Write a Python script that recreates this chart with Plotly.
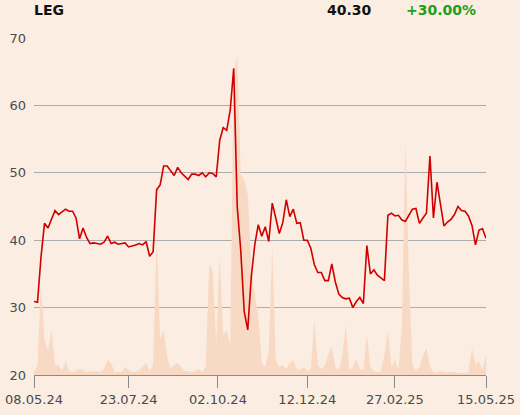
import pandas as pd
import plotly.graph_objects as go

# ---------------- data ----------------
ticker = "LEG"
last_price = "40.30"
change_pct = "+30.00%"

holidays = ["2024-12-24", "2024-12-25", "2024-12-26", "2024-12-31",
            "2025-01-01", "2025-04-18", "2025-04-21", "2025-05-01"]
start_date = "2024-05-08"
end_date = "2025-05-15"

tick_dates = ["2024-05-08", "2024-07-23", "2024-10-02",
              "2024-12-12", "2025-02-27", "2025-05-15"]
tick_labels = ["08.05.24", "23.07.24", "02.10.24", "12.12.24", "27.02.25", "15.05.25"]

# closing price, every second trading day
price = [30.9, 30.8, 37.5, 42.5, 41.8, 43.0, 44.4, 43.8, 44.2, 44.6,
         44.3, 44.3, 43.3, 40.2, 41.8, 40.4, 39.5, 39.6, 39.5, 39.4,
         39.7, 40.6, 39.5, 39.7, 39.4, 39.5, 39.6, 39.0, 39.1, 39.3,
         39.5, 39.3, 39.8, 37.6, 38.3, 47.5, 48.2, 51.0, 51.0, 50.2,
         49.6, 50.8, 50.0, 49.5, 49.0, 49.8, 49.8, 49.6, 50.0, 49.4,
         50.0, 49.9, 49.4, 54.8, 56.7, 56.3, 59.3, 65.5, 45.0, 38.5,
         29.4, 26.7, 34.5, 39.3, 42.3, 40.6, 42.0, 39.8, 45.5, 43.3,
         41.0, 42.6, 46.0, 43.5, 44.6, 42.5, 42.6, 40.0, 40.0, 38.8,
         36.4, 35.2, 35.2, 34.0, 34.0, 36.5, 33.8, 32.0, 31.5, 31.3,
         31.4, 30.0, 30.9, 31.5, 30.6, 39.2, 35.0, 35.6, 34.8, 34.4,
         34.0, 43.7, 44.0, 43.6, 43.7, 43.0, 42.8, 43.7, 44.6, 44.7,
         42.5, 43.3, 44.0, 52.5, 43.3, 48.6, 45.5, 42.1, 42.7, 43.1,
         43.8, 45.0, 44.4, 44.3, 43.6, 42.2, 39.3, 41.5, 41.7, 40.3]

# traded volume (thousands), every second trading day
volume = [30, 100, 900, 350, 250, 450, 100, 100, 40, 130,
          40, 30, 40, 60, 50, 30, 40, 30, 40, 30,
          60, 150, 120, 30, 30, 30, 80, 50, 30, 30,
          50, 80, 120, 40, 100, 1380, 350, 450, 180, 60,
          100, 120, 80, 40, 40, 30, 40, 60, 30, 80,
          1100, 1050, 300, 1200, 400, 450, 300, 3000, 3200, 2000,
          1950, 1800, 1100, 800, 600, 120, 80, 250, 1280, 150,
          80, 100, 60, 120, 150, 60, 50, 80, 40, 60,
          550, 100, 60, 100, 200, 280, 80, 50, 200, 500,
          50, 80, 160, 50, 60, 400, 80, 40, 30, 40,
          200, 450, 80, 150, 50, 480, 2330, 1000, 100, 40,
          80, 200, 270, 80, 30, 30, 40, 30, 30, 30,
          30, 20, 20, 20, 30, 270, 100, 140, 50, 200]

# ---------------- calendar ----------------
trading_days = [d for d in pd.bdate_range(start_date, end_date)
                if d.strftime("%Y-%m-%d") not in holidays]
dates = trading_days[::2]
n = min(len(dates), len(price), len(volume))
dates, price, volume = dates[:n], price[:n], volume[:n]

# ---------------- style ----------------
BG = "#FBEDE1"
RED = "#D00000"
VOL = "#F7D9C4"
GRID = "#ADADAD"
AXIS = "#8A8A8A"
TXT = "#4A4A4A"
FONT = "DejaVu Sans"

fig = go.Figure()
fig.add_trace(go.Scatter(x=dates, y=volume, yaxis="y", mode="lines",
                         line=dict(width=0, color=VOL), fill="tozeroy",
                         fillcolor=VOL, hoverinfo="skip", showlegend=False))
fig.add_trace(go.Scatter(x=dates, y=price, yaxis="y2", mode="lines",
                         line=dict(width=1.6, color=RED), showlegend=False))

fig.update_layout(
    width=520, height=415, autosize=False,
    margin=dict(l=34, r=34, t=38, b=40, pad=0, autoexpand=False),
    paper_bgcolor=BG, plot_bgcolor=BG,
    font=dict(family=FONT, size=13, color=TXT),
    xaxis=dict(type="date", range=[start_date, end_date], automargin=False,
               rangebreaks=[dict(bounds=["sat", "mon"]), dict(values=holidays)],
               tickvals=tick_dates, ticktext=tick_labels,
               showgrid=False, showline=True, linecolor=AXIS, linewidth=1,
               ticks="outside", ticklen=12, tickcolor=AXIS, tickwidth=1,
               tickfont=dict(size=13, color=TXT), zeroline=False),
    yaxis=dict(range=[0, 3370], showgrid=False, showticklabels=False,
               automargin=False,
               zeroline=False, showline=False, ticks=""),
    yaxis2=dict(range=[20, 70], overlaying="y", side="left", automargin=False,
                tickvals=[20, 30, 40, 50, 60, 70],
                showgrid=True, gridcolor=GRID, gridwidth=1,
                zeroline=False, showline=False, ticks="",
                ticklabelstandoff=7,
                tickfont=dict(size=13, color=TXT)),
    annotations=[
        dict(text="<b>" + ticker + "</b>", xref="paper", yref="paper",
             x=0.0, y=1.083, xanchor="left", yanchor="middle", showarrow=False,
             xshift=-2,
             font=dict(family=FONT, size=14, color="#111111")),
        dict(text="<b>" + last_price + "</b>", xref="paper", yref="paper",
             x=0.648, y=1.083, xanchor="left", yanchor="middle", showarrow=False,
             xshift=-2,
             font=dict(family=FONT, size=14, color="#111111")),
        dict(text="<b>" + change_pct + "</b>", xref="paper", yref="paper",
             x=0.823, y=1.083, xanchor="left", yanchor="middle", showarrow=False,
             xshift=-2,
             font=dict(family=FONT, size=14, color="#1E9E1E")),
    ],
)

fig.write_html("out.html",
               config={"responsive": False, "displayModeBar": False},
               post_script="document.body.style.margin='0';"
                           "document.body.style.overflow='hidden';"
                           "document.body.style.background='" + BG + "';")
